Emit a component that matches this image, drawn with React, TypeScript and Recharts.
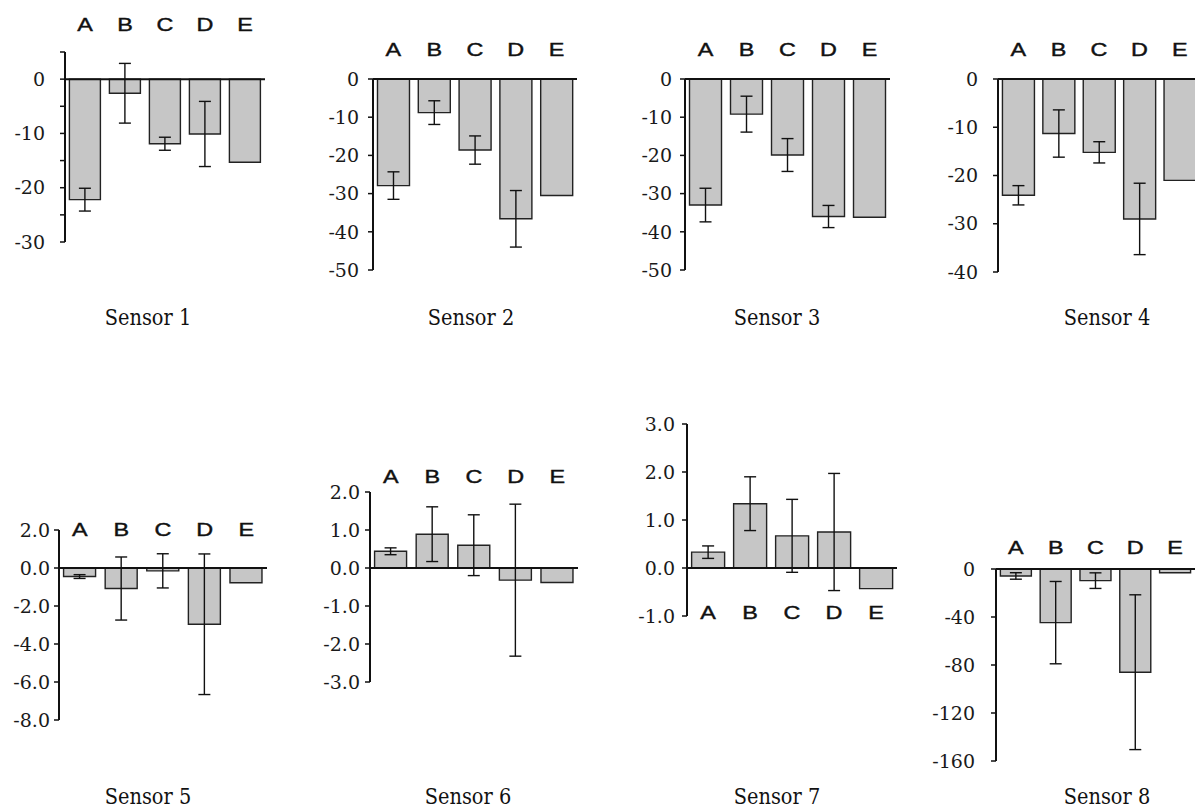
import { BarChart, Bar, XAxis, YAxis, ErrorBar, ReferenceLine } from 'recharts'

const categories = ['A', 'B', 'C', 'D', 'E']

// mean response per sample and its ± error (null: no error bar)
const sensor1Mean = [-22.2, -2.6, -11.9, -10.1, -15.3]
const sensor1Err = [2.1, 5.5, 1.2, 6.0, null]
const sensor2Mean = [-27.9, -8.8, -18.6, -36.6, -30.5]
const sensor2Err = [3.6, 3.1, 3.7, 7.4, null]
const sensor3Mean = [-33.0, -9.2, -19.9, -36.0, -36.2]
const sensor3Err = [4.4, 4.7, 4.3, 2.9, null]
const sensor4Mean = [-24.1, -11.3, -15.2, -29.0, -21.0]
const sensor4Err = [2.0, 4.9, 2.2, 7.4, null]
const sensor5Mean = [-0.45, -1.08, -0.15, -2.96, -0.78]
const sensor5Err = [0.1, 1.66, 0.9, 3.7, null]
const sensor6Mean = [0.44, 0.89, 0.6, -0.32, -0.38]
const sensor6Err = [0.09, 0.72, 0.8, 2.0, null]
const sensor7Mean = [0.33, 1.34, 0.67, 0.75, -0.43]
const sensor7Err = [0.13, 0.56, 0.76, 1.22, null]
const sensor8Mean = [-5.8, -44.7, -9.7, -86, -3.1]
const sensor8Err = [2.7, 34.3, 6.5, 64.5, null]

// y ticks; only multiples of the label step get a number
const sensor1Ticks = [5, 0, -5, -10, -15, -20, -25, -30]
const sensor2Ticks = [0, -10, -20, -30, -40, -50]
const sensor3Ticks = [0, -10, -20, -30, -40, -50]
const sensor4Ticks = [0, -10, -20, -30, -40]
const sensor5Ticks = [2, 0, -2, -4, -6, -8]
const sensor6Ticks = [2, 1, 0, -1, -2, -3]
const sensor7Ticks = [3, 2, 1, 0, -1]
const sensor8Ticks = [0, -40, -80, -120, -160]

const AXIS_W = 75
const PAD = 40

const panels = [
  { title: 'Sensor 1', mean: sensor1Mean, err: sensor1Err, ticks: sensor1Ticks, step: 10, decimals: 0,
    axisX: 65, top: 52, bottom: 242, right: 265, labelY: 25, titleX: 148, titleY: 318, tickMargin: 15 },
  { title: 'Sensor 2', mean: sensor2Mean, err: sensor2Err, ticks: sensor2Ticks, step: 10, decimals: 0,
    axisX: 373, top: 79, bottom: 270, right: 577, labelY: 50, titleX: 471, titleY: 318, tickMargin: 9 },
  { title: 'Sensor 3', mean: sensor3Mean, err: sensor3Err, ticks: sensor3Ticks, step: 10, decimals: 0,
    axisX: 685, top: 79, bottom: 270, right: 890, labelY: 50, titleX: 777, titleY: 318, tickMargin: 8 },
  { title: 'Sensor 4', mean: sensor4Mean, err: sensor4Err, ticks: sensor4Ticks, step: 10, decimals: 0,
    axisX: 998, top: 79, bottom: 272, right: 1200, labelY: 50, titleX: 1107, titleY: 318, tickMargin: 15 },
  { title: 'Sensor 5', mean: sensor5Mean, err: sensor5Err, ticks: sensor5Ticks, step: 2, decimals: 1,
    axisX: 59, top: 530, bottom: 720, right: 267, labelY: 530, titleX: 148, titleY: 797, tickMargin: 4 },
  { title: 'Sensor 6', mean: sensor6Mean, err: sensor6Err, ticks: sensor6Ticks, step: 1, decimals: 1,
    axisX: 370, top: 492, bottom: 682, right: 578, labelY: 477, titleX: 468, titleY: 797, tickMargin: 5 },
  { title: 'Sensor 7', mean: sensor7Mean, err: sensor7Err, ticks: sensor7Ticks, step: 1, decimals: 1,
    axisX: 687, top: 424, bottom: 616, right: 897, labelY: 613, titleX: 777, titleY: 797, tickMargin: 7 },
  { title: 'Sensor 8', mean: sensor8Mean, err: sensor8Err, ticks: sensor8Ticks, step: 40, decimals: 0,
    axisX: 996, top: 569, bottom: 761, right: 1195, labelY: 548, titleX: 1107, titleY: 797, tickMargin: 16 },
]

type Panel = (typeof panels)[number]

function SensorPanel({ p }: { p: Panel }) {
  const data = categories.map((c, i) => ({ cat: c, mean: p.mean[i], err: p.err[i] }))
  const width = p.right - p.axisX + AXIS_W + 4
  const height = p.bottom - p.top + PAD * 2
  const labelY = p.labelY - p.top + PAD
  const lo = p.ticks[p.ticks.length - 1]
  const hi = p.ticks[0]

  const fmt = (v: number) => {
    if (Math.abs(v % p.step) > 1e-9) return ''
    if (p.decimals === 0 && v > 0) return ''
    return v.toFixed(p.decimals)
  }

  return (
    <div style={{ position: 'absolute', left: p.axisX - AXIS_W, top: p.top - PAD }}>
      <BarChart
        width={width}
        height={height}
        data={data}
        margin={{ top: PAD - 1, right: 4, bottom: PAD, left: 0 }}
        barCategoryGap="11%"
      >
        {/* category letters sit above (or below) the plot at a fixed height */}
        <XAxis
          dataKey="cat"
          orientation="top"
          height={1}
          axisLine={false}
          tickLine={false}
          interval={0}
          tick={(props: any) => (
            <text
              transform={`translate(${props.x},${labelY}) scale(1.3,1)`}
              textAnchor="middle"
              dominantBaseline="central"
              fontFamily="'Liberation Sans', Arial, sans-serif"
              fontSize={18}
              fill="#111"
              stroke="#111"
              strokeWidth={0.4}
            >
              {props.payload.value}
            </text>
          )}
        />
        <YAxis
          type="number"
          domain={[lo, hi]}
          ticks={p.ticks}
          interval={0}
          allowDataOverflow
          width={AXIS_W}
          tickFormatter={fmt}
          axisLine={{ stroke: '#111', strokeWidth: 2 }}
          tickLine={{ stroke: '#111', strokeWidth: 1.5 }}
          tickSize={5}
          tickMargin={p.tickMargin}
          tick={{ fill: '#1a1a1a', fontSize: 19, fontFamily: "'DejaVu Serif', serif" }}
        />
        <Bar dataKey="mean" fill="#c6c6c6" stroke="#222" strokeWidth={1.4} isAnimationActive={false}>
          <ErrorBar dataKey="err" width={6} stroke="#111" strokeWidth={1.4} isAnimationActive={false} />
        </Bar>
        <ReferenceLine y={0} stroke="#111" strokeWidth={2} />
      </BarChart>
    </div>
  )
}

export default function App() {
  return (
    <div
      style={{
        position: 'absolute',
        left: 0,
        top: 0,
        width: 1195,
        height: 810,
        overflow: 'hidden',
        background: '#fff',
      }}
    >
      {panels.map((p) => (
        <SensorPanel key={p.title} p={p} />
      ))}
      {panels.map((p) => (
        <div
          key={p.title + '-title'}
          style={{
            position: 'absolute',
            left: p.titleX - 100,
            top: p.titleY - 15,
            width: 200,
            textAlign: 'center',
            fontFamily: "'DejaVu Serif', serif",
            fontSize: 22,
            lineHeight: '30px',
            color: '#111',
            transform: 'scaleX(0.88)',
          }}
        >
          {p.title}
        </div>
      ))}
    </div>
  )
}
